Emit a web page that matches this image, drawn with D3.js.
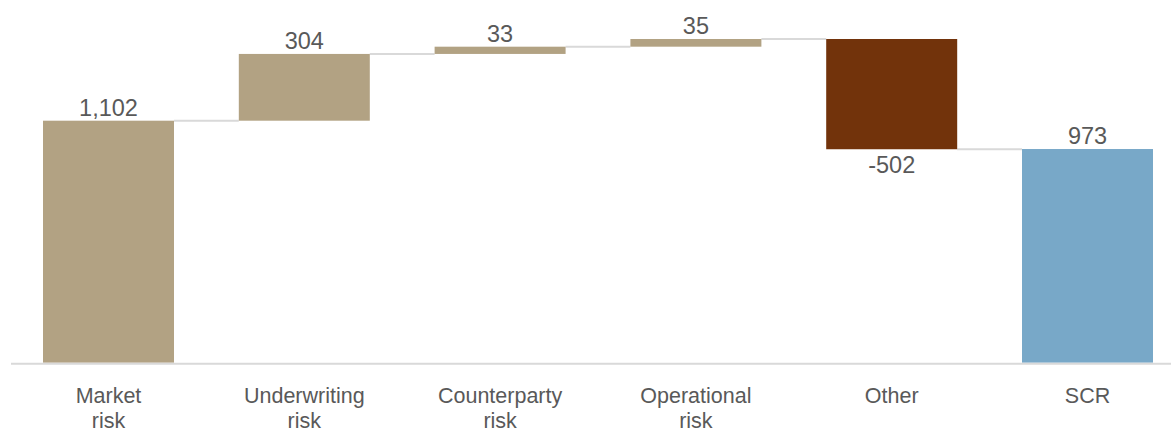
<!DOCTYPE html>
<html>
<head>
<meta charset="utf-8">
<script src="https://cdn.jsdelivr.net/npm/d3@7"></script>
<style>
  html, body { margin: 0; padding: 0; background: #fff; }
  svg { display: block; }
  text { font-family: "Liberation Sans", Arial, sans-serif; fill: #595959; }
</style>
</head>
<body>
<svg id="chart" width="1171" height="429"></svg>
<script>
// SCR breakdown (waterfall)
const categories = [["Market", "risk"], ["Underwriting", "risk"], ["Counterparty", "risk"], ["Operational", "risk"], ["Other"], ["SCR"]];
const values = [1102, 304, 33, 35, -502, 973];
const kinds = ["step", "step", "step", "step", "step", "total"];
const valueLabels = ["1,102", "304", "33", "35", "-502", "973"];

const width = 1171, height = 429;
const svg = d3.select("#chart");

// running totals -> start/end of each bar
let running = 0;
const bars = values.map((v, i) => {
  let start, end;
  if (kinds[i] === "total") { start = 0; end = v; running = v; }
  else { start = running; end = running + v; running = end; }
  return { i, v, start, end, label: valueLabels[i], cat: categories[i], kind: kinds[i] };
});

const x = d3.scaleBand()
  .domain(d3.range(categories.length))
  .range([10.6, 1185.4])
  .paddingInner(0.331)
  .paddingOuter(0.1655);

const y = d3.scaleLinear()
  .domain([0, 1474])
  .range([362.7, 39]);

const colorFor = d => d.kind === "total" ? "#78A8C8" : (d.v < 0 ? "#72330B" : "#B2A283");

// connector lines between consecutive bars
const conn = svg.append("g");
bars.slice(0, -1).forEach((d, k) => {
  const next = bars[k + 1];
  conn.append("line")
    .attr("x1", x(d.i) + x.bandwidth())
    .attr("x2", x(next.i))
    .attr("y1", y(d.end))
    .attr("y2", y(d.end))
    .attr("stroke", "#D9D9D9")
    .attr("stroke-width", 2);
});

// bars
svg.append("g").selectAll("rect")
  .data(bars)
  .join("rect")
  .attr("x", d => x(d.i))
  .attr("width", x.bandwidth())
  .attr("y", d => y(Math.max(d.start, d.end)))
  .attr("height", d => Math.abs(y(d.start) - y(d.end)))
  .attr("fill", colorFor);

// baseline axis
svg.append("line")
  .attr("x1", 11).attr("x2", width)
  .attr("y1", y(0) + 1).attr("y2", y(0) + 1)
  .attr("stroke", "#D9D9D9")
  .attr("stroke-width", 2);

// value labels
svg.append("g").selectAll("text")
  .data(bars)
  .join("text")
  .attr("x", d => x(d.i) + x.bandwidth() / 2)
  .attr("y", d => d.v < 0 ? y(d.end) + 23.5 : y(Math.max(d.start, d.end)) - 5)
  .attr("text-anchor", "middle")
  .attr("font-size", 23.5)
  .text(d => d.label);

// category labels
const cat = svg.append("g").selectAll("text")
  .data(bars)
  .join("text")
  .attr("x", d => x(d.i) + x.bandwidth() / 2)
  .attr("y", 402.5)
  .attr("text-anchor", "middle")
  .attr("font-size", 21.5);
cat.selectAll("tspan")
  .data(d => d.cat.map((t, j) => ({ t, j, cx: x(d.i) + x.bandwidth() / 2 })))
  .join("tspan")
  .attr("x", t => t.cx)
  .attr("dy", t => t.j === 0 ? 0 : 25)
  .text(t => t.t);
</script>
</body>
</html>
